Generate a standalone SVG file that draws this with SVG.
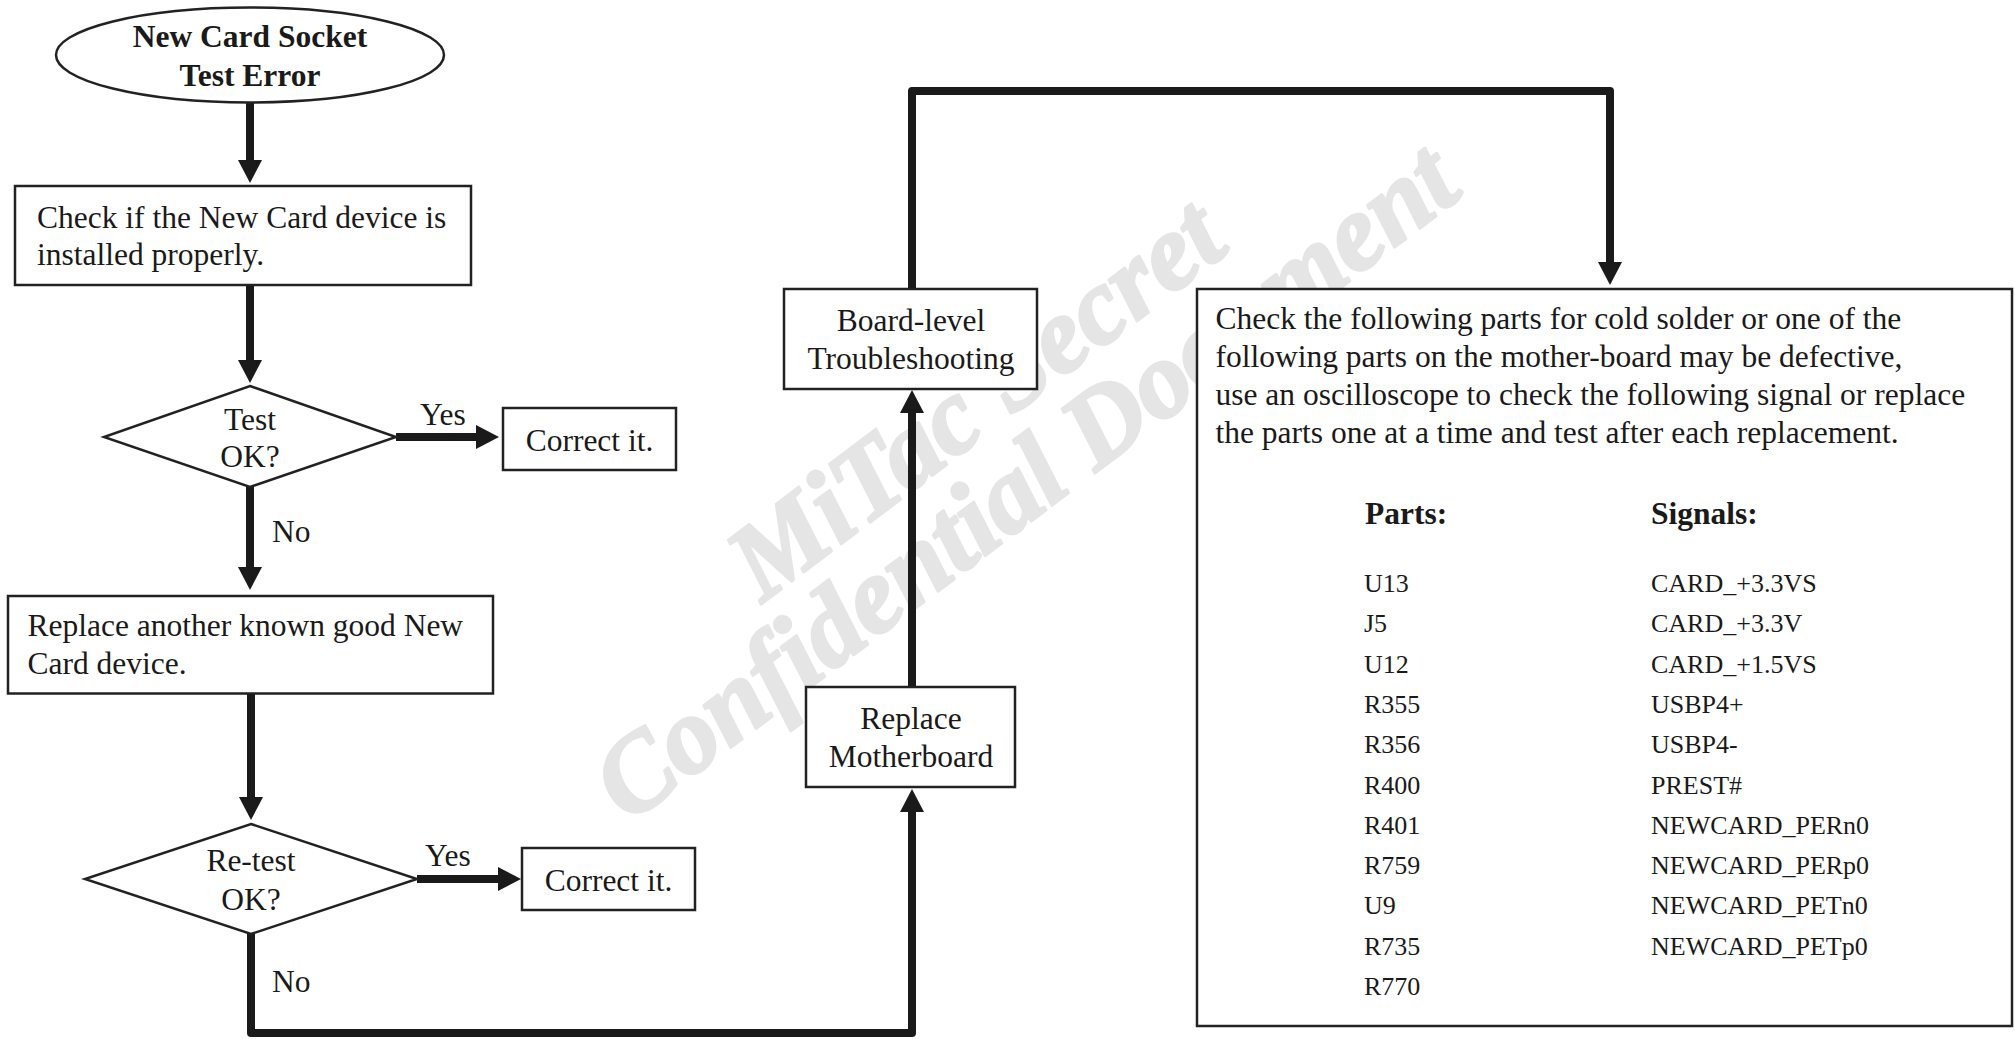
<svg xmlns="http://www.w3.org/2000/svg" width="2015" height="1039" viewBox="0 0 2015 1039">
<defs>
<style>
.bg{fill:#ffffff}
.shape{fill:#ffffff;stroke:#222222;stroke-width:2.5}
.t{font-family:"Liberation Serif","Times New Roman",serif;font-size:31.5px;fill:#1a1a1a}
.c{text-anchor:middle}
.b{font-weight:bold}
.sm{font-size:26px}
.wm{font-family:"Liberation Serif","Times New Roman",serif;font-size:108px;font-weight:bold;font-style:italic;fill:#e5e5e5;stroke:#e5e5e5;stroke-width:3;stroke-linejoin:round;text-anchor:middle}
.conn{fill:none;stroke:#1a1a1a;stroke-width:8;stroke-linejoin:round}
</style>
<marker id="ah" markerUnits="userSpaceOnUse" viewBox="0 0 24 24" markerWidth="24" markerHeight="24" refX="0" refY="12" orient="auto">
<path d="M0,0 L23,12 L0,24 z" fill="#1a1a1a"/>
</marker>
</defs>
<rect class="bg" x="0" y="0" width="2015" height="1039"/>

<g id="watermark">
<g transform="translate(975,398) rotate(-37)">
<text class="wm" x="0" y="36">MiTac Secret</text>
<text class="wm" x="-10" y="132">Confidential Document</text>
</g>
</g>

<g id="connectors">
<path class="conn" d="M250,102 V160" marker-end="url(#ah)"/>
<path class="conn" d="M250,285 V360" marker-end="url(#ah)"/>
<path class="conn" d="M396,437 H476" marker-end="url(#ah)"/>
<path class="conn" d="M250,487 V567" marker-end="url(#ah)"/>
<path class="conn" d="M251,693 V797" marker-end="url(#ah)"/>
<path class="conn" d="M417,879 H498" marker-end="url(#ah)"/>
<path class="conn" d="M251,934 V1033 H912 V812" marker-end="url(#ah)"/>
<path class="conn" d="M912,687 V413" marker-end="url(#ah)"/>
<path class="conn" d="M912,289 V91 H1610 V262" marker-end="url(#ah)"/>
<text class="t" x="420" y="425">Yes</text>
<text class="t" x="272" y="542">No</text>
<text class="t" x="425" y="866">Yes</text>
<text class="t" x="272" y="992">No</text>
</g>

<g id="start">
<ellipse class="shape" cx="250" cy="55" rx="194" ry="47.5"/>
<text class="t b c" x="250" y="47">New Card Socket</text>
<text class="t b c" x="250" y="86">Test Error</text>
</g>

<g id="check-installed">
<rect class="shape" x="15" y="186" width="456" height="99"/>
<text class="t" x="37" y="228">Check if the New Card device is</text>
<text class="t" x="37" y="265">installed properly.</text>
</g>

<g id="test-ok">
<polygon class="shape" points="250,386 396,437 250,487 104,437"/>
<text class="t c" x="250" y="430">Test</text>
<text class="t c" x="250" y="467">OK?</text>
</g>

<g id="correct-1">
<rect class="shape" x="503" y="408" width="173" height="62"/>
<text class="t c" x="589.5" y="451">Correct it.</text>
</g>

<g id="replace-card">
<rect class="shape" x="8" y="596" width="485" height="97.5"/>
<text class="t" x="27.5" y="636">Replace another known good New</text>
<text class="t" x="27.5" y="674">Card device.</text>
</g>

<g id="retest-ok">
<polygon class="shape" points="251,824 417,879 251,934 85,879"/>
<text class="t c" x="251" y="871">Re-test</text>
<text class="t c" x="251" y="910">OK?</text>
</g>

<g id="correct-2">
<rect class="shape" x="522" y="848" width="173" height="62"/>
<text class="t c" x="608.5" y="891">Correct it.</text>
</g>

<g id="replace-mb">
<rect class="shape" x="806" y="687" width="209" height="100"/>
<text class="t c" x="911" y="729">Replace</text>
<text class="t c" x="911" y="767">Motherboard</text>
</g>

<g id="board-level">
<rect class="shape" x="784" y="289" width="253" height="100"/>
<text class="t c" x="911" y="331">Board-level</text>
<text class="t c" x="911" y="369">Troubleshooting</text>
</g>

<g id="parts-check">
<rect class="shape" x="1197" y="289" width="815" height="737"/>
<text class="t" x="1215.5" y="329">Check the following parts for cold solder or one of the</text>
<text class="t" x="1215.5" y="367">following parts on the mother-board may be defective,</text>
<text class="t" x="1215.5" y="405">use an oscilloscope to check the following signal or replace</text>
<text class="t" x="1215.5" y="443">the parts one at a time and test after each replacement.</text>
<text class="t b" x="1365" y="524">Parts:</text>
<text class="t b" x="1651" y="524">Signals:</text>
<text class="t sm" x="1364" y="592">U13</text>
<text class="t sm" x="1364" y="632.3">J5</text>
<text class="t sm" x="1364" y="672.6">U12</text>
<text class="t sm" x="1364" y="712.9">R355</text>
<text class="t sm" x="1364" y="753.2">R356</text>
<text class="t sm" x="1364" y="793.5">R400</text>
<text class="t sm" x="1364" y="833.8">R401</text>
<text class="t sm" x="1364" y="874.1">R759</text>
<text class="t sm" x="1364" y="914.4">U9</text>
<text class="t sm" x="1364" y="954.7">R735</text>
<text class="t sm" x="1364" y="995">R770</text>
<text class="t sm" x="1651" y="592">CARD_+3.3VS</text>
<text class="t sm" x="1651" y="632.3">CARD_+3.3V</text>
<text class="t sm" x="1651" y="672.6">CARD_+1.5VS</text>
<text class="t sm" x="1651" y="712.9">USBP4+</text>
<text class="t sm" x="1651" y="753.2">USBP4-</text>
<text class="t sm" x="1651" y="793.5">PREST#</text>
<text class="t sm" x="1651" y="833.8">NEWCARD_PERn0</text>
<text class="t sm" x="1651" y="874.1">NEWCARD_PERp0</text>
<text class="t sm" x="1651" y="914.4">NEWCARD_PETn0</text>
<text class="t sm" x="1651" y="954.7">NEWCARD_PETp0</text>
</g>
</svg>
